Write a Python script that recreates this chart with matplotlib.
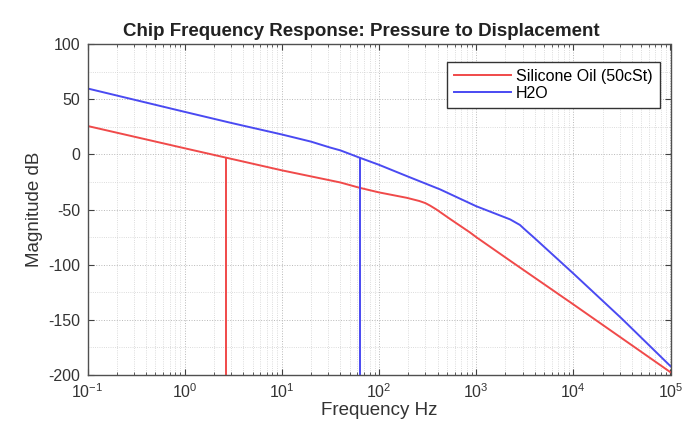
import matplotlib
matplotlib.use("Agg")
import matplotlib.pyplot as plt
from matplotlib.ticker import LogLocator, NullFormatter, FixedLocator

# ---- data ----
oil_freq = [0.1, 1, 10, 40, 63, 100, 193, 260, 300, 336, 390, 537, 870, 1000, 2200,
            10000, 100000]
oil_db = [25.7, 5.5, -14.5, -25.5, -30.3, -34.5, -39.4, -42.3, -44.2, -46.5, -50,
          -58.5, -71, -75, -96, -136, -197.5]

h2o_freq = [0.1, 1, 3, 10, 20, 31, 40, 63, 100, 193, 426, 1000, 1400, 2240, 2820,
            3160, 4000, 10000, 31600, 100000]
h2o_db = [59.7, 38.5, 28.5, 18, 11.5, 6.3, 3.6, -3, -9.5, -19.7, -31.8, -47, -52,
          -59, -64, -68, -76, -108, -149, -192]

cutoff_freq = [2.65, 63.7]
cutoff_db = [-3, -3]

series_labels = ["Silicone Oil (50cSt)", "H2O"]
y_ticks = [-200, -150, -100, -50, 0, 50, 100]
x_decades = [-1, 0, 1, 2, 3, 4, 5]

red = "#f04a4a"
blue = "#4a4af2"

plt.rcParams["font.family"] = ["Liberation Sans", "DejaVu Sans"]
plt.rcParams["mathtext.fontset"] = "custom"
plt.rcParams["mathtext.rm"] = "Liberation Sans"
plt.rcParams["axes.unicode_minus"] = False

fig = plt.figure(figsize=(6.88, 4.33), dpi=100)
ax = fig.add_axes([87.5 / 688, 1 - 375 / 433, 583 / 688, 331 / 433])

ax.plot(oil_freq, oil_db, color=red, lw=1.4, label=series_labels[0])
ax.plot(h2o_freq, h2o_db, color=blue, lw=1.4, label=series_labels[1])
ax.vlines(cutoff_freq[0], -200, cutoff_db[0], color=red, lw=1.4)
ax.vlines(cutoff_freq[1], -200, cutoff_db[1], color=blue, lw=1.4)

ax.set_xscale("log")
ax.set_xlim(10.0 ** x_decades[0], 10.0 ** x_decades[-1])
ax.set_ylim(y_ticks[0], y_ticks[-1])
ax.xaxis.set_major_locator(FixedLocator([10.0 ** d for d in x_decades]))
ax.set_xticklabels([r"$10^{%d}$" % d for d in x_decades])
ax.xaxis.set_minor_locator(LogLocator(base=10, subs=range(2, 10), numticks=50))
ax.xaxis.set_minor_formatter(NullFormatter())
ax.set_yticks(y_ticks)
ax.set_yticks(range(-175, 100, 50), minor=True)

ax.grid(True, which="major", linestyle=":", color="#b8b8b8", lw=0.7)
ax.grid(True, which="minor", axis="x", linestyle=":", color="#d0d0d0", lw=0.6)
ax.grid(True, which="minor", axis="y", linestyle=":", color="#d0d0d0", lw=0.6)

ax.tick_params(which="both", direction="in", top=True, right=True,
               colors="#404040", labelcolor="#333333", labelsize=11.5)
ax.tick_params(which="major", length=4, width=0.8, pad=5)
ax.tick_params(which="minor", length=2, width=0.6)
ax.tick_params(axis="y", which="minor", length=0)
for s in ax.spines.values():
    s.set_color("#505050")
    s.set_linewidth(1.0)

ax.set_xlabel("Frequency Hz", fontsize=13.5, color="#333333", labelpad=1)
ax.set_ylabel("Magnitude dB", fontsize=13.5, color="#333333", labelpad=4)
ax.set_title("Chip Frequency Response: Pressure to Displacement", fontsize=13.5,
             fontweight="bold", color="#222222", x=0.469, pad=6)

leg = ax.legend(loc="upper right", bbox_to_anchor=(0.982, 0.946), fontsize=11.5,
                fancybox=False, framealpha=1, edgecolor="#333333",
                handlelength=3.6, borderpad=0.45, labelspacing=0.1,
                handletextpad=0.3, borderaxespad=0)
leg.get_frame().set_linewidth(1.0)

fig.savefig("out.png", dpi=100, facecolor="white")
